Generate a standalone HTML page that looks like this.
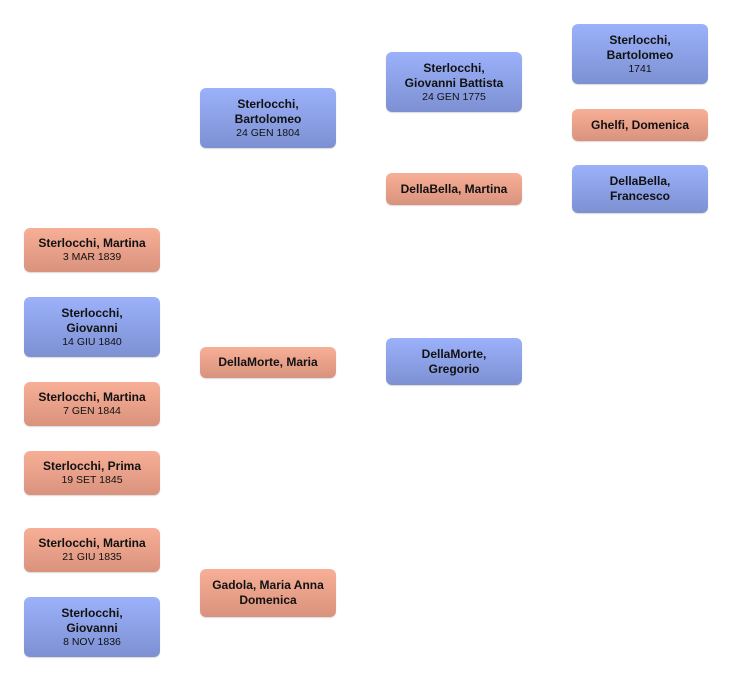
<!DOCTYPE html>
<html><head><meta charset="utf-8"><style>
body{margin:0;width:732px;height:682px;background:#fff;position:relative;font-family:"Liberation Sans",sans-serif;overflow:hidden}
.b{position:absolute;width:136px;border-radius:6px;display:flex;flex-direction:column;justify-content:center;align-items:center;text-align:center;color:#111;box-shadow:0 1px 1px rgba(0,0,0,.15)}
.m{background:linear-gradient(#9bb1fa,#7d90d2)}
.f{background:linear-gradient(#f8af97,#d9927d)}
.n{font-weight:bold;font-size:12px;line-height:15px}
.d{font-size:10.5px;line-height:13px}
</style></head><body>
<div class="b f" style="left:24px;top:228px;height:44px"><div class="n">Sterlocchi, Martina</div><div class="d">3 MAR 1839</div></div>
<div class="b m" style="left:24px;top:297px;height:60px"><div class="n">Sterlocchi,<br>Giovanni</div><div class="d">14 GIU 1840</div></div>
<div class="b f" style="left:24px;top:382px;height:44px"><div class="n">Sterlocchi, Martina</div><div class="d">7 GEN 1844</div></div>
<div class="b f" style="left:24px;top:451px;height:44px"><div class="n">Sterlocchi, Prima</div><div class="d">19 SET 1845</div></div>
<div class="b f" style="left:24px;top:528px;height:44px"><div class="n">Sterlocchi, Martina</div><div class="d">21 GIU 1835</div></div>
<div class="b m" style="left:24px;top:597px;height:60px"><div class="n">Sterlocchi,<br>Giovanni</div><div class="d">8 NOV 1836</div></div>
<div class="b m" style="left:200px;top:88px;height:60px"><div class="n">Sterlocchi,<br>Bartolomeo</div><div class="d">24 GEN 1804</div></div>
<div class="b f" style="left:200px;top:347px;height:31px"><div class="n">DellaMorte, Maria</div></div>
<div class="b f" style="left:200px;top:569px;height:48px"><div class="n">Gadola, Maria Anna<br>Domenica</div></div>
<div class="b m" style="left:386px;top:52px;height:60px"><div class="n">Sterlocchi,<br>Giovanni Battista</div><div class="d">24 GEN 1775</div></div>
<div class="b f" style="left:386px;top:173px;height:32px"><div class="n">DellaBella, Martina</div></div>
<div class="b m" style="left:386px;top:338px;height:47px"><div class="n">DellaMorte,<br>Gregorio</div></div>
<div class="b m" style="left:572px;top:24px;height:60px"><div class="n">Sterlocchi,<br>Bartolomeo</div><div class="d">1741</div></div>
<div class="b f" style="left:572px;top:109px;height:32px"><div class="n">Ghelfi, Domenica</div></div>
<div class="b m" style="left:572px;top:165px;height:48px"><div class="n">DellaBella,<br>Francesco</div></div>
</body></html>
